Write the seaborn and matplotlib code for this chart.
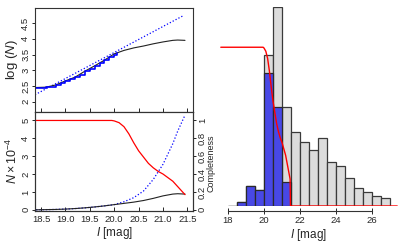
import matplotlib
matplotlib.use("Agg")
import matplotlib.pyplot as plt
import seaborn as sns
import numpy as np

# ---------------- data ----------------
# top-left: log(N) cumulative counts
step_mag = [18.40, 18.50, 18.60, 18.70, 18.80, 18.90, 19.00, 19.10, 19.20, 19.30,
            19.40, 19.50, 19.60, 19.70, 19.80, 19.90, 20.00, 20.05]
step_logn = [2.45, 2.44, 2.46, 2.48, 2.53, 2.59, 2.66, 2.71, 2.78, 2.86,
             2.97, 3.05, 3.14, 3.22, 3.32, 3.42, 3.50, 3.55]
obs_mag = [18.40, 18.60, 18.80, 19.00, 19.20, 19.40, 19.60, 19.80, 20.00, 20.20,
           20.40, 20.60, 20.80, 21.00, 21.20, 21.30, 21.45]
obs_logn = [2.45, 2.46, 2.53, 2.66, 2.78, 2.97, 3.14, 3.32, 3.52, 3.63,
            3.71, 3.77, 3.84, 3.90, 3.95, 3.96, 3.95]
model_mag = [18.377, 21.42]
model_logn = [2.22, 4.74]

# bottom-left: differential counts (x 1e-4) and completeness
dens_mag = [18.40, 18.60, 18.80, 19.00, 19.20, 19.40, 19.60, 19.80, 20.00, 20.20,
            20.40, 20.60, 20.80, 21.00, 21.20, 21.30, 21.45]
dens_obs = [0.00, 0.01, 0.02, 0.04, 0.07, 0.11, 0.16, 0.22, 0.29, 0.36,
            0.43, 0.52, 0.64, 0.78, 0.88, 0.90, 0.88]
dens_model = [0.00, 0.01, 0.02, 0.04, 0.07, 0.11, 0.16, 0.22, 0.29, 0.45,
              0.68, 1.05, 1.70, 2.55, 3.70, 4.40, 5.30]
comp_mag = [18.40, 19.00, 19.50, 19.95, 20.00, 20.10, 20.20, 20.30, 20.40, 20.50,
            20.60, 20.70, 20.80, 20.90, 21.00, 21.10, 21.20, 21.30, 21.45]
comp_val = [1.00, 1.00, 1.00, 1.00, 0.995, 0.975, 0.93, 0.85, 0.75, 0.66,
            0.59, 0.52, 0.47, 0.43, 0.40, 0.36, 0.32, 0.26, 0.17]

# right: histogram
bin_edges = [18.0, 18.5, 19.0, 19.5, 20.0, 20.5, 21.0, 21.5, 22.0, 22.5,
             23.0, 23.5, 24.0, 24.5, 25.0, 25.5, 26.0, 26.5, 27.0]
all_counts = [0, 2, 10, 8, 76, 100, 50, 37, 32, 28, 34, 22, 20, 14, 9, 7, 5, 4]
sel_counts = [0, 2, 10, 8, 67, 50, 12, 0, 0, 0, 0, 0, 0, 0, 0, 0, 0, 0]
right_comp_mag = [17.6] + comp_mag + [21.47, 27.4]
right_comp_val = [1.0] + comp_val + [0.0, 0.0]

# ---------------- style ----------------
sns.set_style("ticks")
plt.rcParams["font.family"] = ["Liberation Sans", "DejaVu Sans"]
plt.rcParams["mathtext.fontset"] = "custom"
plt.rcParams["mathtext.rm"] = "Liberation Sans"
plt.rcParams["mathtext.it"] = "Liberation Sans:italic"
plt.rcParams["axes.linewidth"] = 0.8

W, H = 407, 246
fig = plt.figure(figsize=(W / 100, H / 100), dpi=100)

def fx(px):
    return px / W

def fy(py):
    return 1 - py / H

left_x0, left_x1 = 35, 193.3
ax_top = fig.add_axes([fx(left_x0), fy(111.7), fx(left_x1 - left_x0), (111.7 - 8.3) / H])
ax_bot = fig.add_axes([fx(left_x0), fy(210.7), fx(left_x1 - left_x0), (210.7 - 111.7) / H])
ax_r = fig.add_axes([fx(219), fy(206), fx(180), (206 - 7.3) / H])

tick_fs = 6.8
dotted = (0, (1, 1.6))

# ---- top-left ----
sns.lineplot(x=model_mag, y=model_logn, ax=ax_top, color="blue", lw=0.9,
             linestyle=dotted, estimator=None)
sns.lineplot(x=obs_mag, y=obs_logn, ax=ax_top, color="#222222", lw=0.8, estimator=None)
sns.lineplot(x=step_mag, y=step_logn, ax=ax_top, color="blue", lw=1.2,
             drawstyle="steps-post", estimator=None)
ax_top.set_xlim(18.377, 21.62)
ax_top.set_ylim(1.68, 4.97)
ax_top.set_xticks([18.5, 19.0, 19.5, 20.0, 20.5, 21.0, 21.5])
ax_top.set_xticklabels([])
ax_top.set_yticks([2, 2.5, 3, 3.5, 4, 4.5])
ax_top.set_yticklabels(["2", "2.5", "3", "3.5", "4", "4.5"])
ax_top.tick_params(axis="x", direction="in", length=3, width=0.7)
ax_top.tick_params(axis="y", direction="out", length=2.4, width=0.7,
                   labelsize=tick_fs, pad=1, labelrotation=90)
for t in ax_top.get_yticklabels():
    t.set_va("center")
ax_top.set_xlabel("")
ax_top.set_ylabel("")
for s in ax_top.spines.values():
    s.set_color("#333333")

# ---- bottom-left ----
sns.lineplot(x=dens_mag, y=dens_model, ax=ax_bot, color="blue", lw=0.9,
             linestyle=dotted, estimator=None)
sns.lineplot(x=dens_mag, y=dens_obs, ax=ax_bot, color="#222222", lw=0.8, estimator=None)
ax_bot.set_xlim(18.377, 21.62)
ax_bot.set_ylim(-0.05, 5.49)
ax_bot.set_xticks([18.5, 19.0, 19.5, 20.0, 20.5, 21.0, 21.5])
ax_bot.set_xticklabels(["18.5", "19.0", "19.5", "20.0", "20.5", "21.0", "21.5"])
ax_bot.set_yticks([0, 1, 2, 3, 4, 5])
ax_bot.tick_params(axis="x", direction="in", length=3, width=0.7,
                   labelsize=tick_fs, pad=3)
ax_bot.tick_params(axis="y", direction="out", length=2.4, width=0.7,
                   labelsize=tick_fs, pad=1, labelrotation=90)
for t in ax_bot.get_yticklabels():
    t.set_va("center")
ax_bot.set_xlabel(r"$I$ [mag]", fontsize=8.5, labelpad=1)
ax_bot.set_ylabel("")
for s in ax_bot.spines.values():
    s.set_color("#333333")

ax_c = ax_bot.twinx()
sns.lineplot(x=comp_mag, y=comp_val, ax=ax_c, color="red", lw=0.9, estimator=None)
ax_c.set_ylim(-0.01, 1.098)
ax_c.set_yticks([0, 0.2, 0.4, 0.6, 0.8, 1])
ax_c.set_yticklabels(["0", "0.2", "0.4", "0.6", "0.8", "1"])
ax_c.tick_params(axis="y", direction="out", length=2.4, width=0.7,
                 labelsize=tick_fs, pad=1, labelrotation=90)
for t in ax_c.get_yticklabels():
    t.set_va("center")
ax_c.set_ylabel("")
for s in ax_c.spines.values():
    s.set_color("#333333")

fig.text(fx(12), fy(60), r"log ($N$)", rotation=90, ha="center", va="center", fontsize=9.5)
fig.text(fx(12), fy(161), r"$N\times10^{-4}$", rotation=90, ha="center", va="center", fontsize=9)
fig.text(fx(211), fy(163), "Completeness", rotation=90, ha="center", va="center", fontsize=6.5)

# ---- right histogram ----
centers = [(a + b) / 2 for a, b in zip(bin_edges[:-1], bin_edges[1:])]
sns.histplot(x=centers, weights=all_counts, bins=bin_edges, ax=ax_r,
             color="#dcdcdc", edgecolor="#3a3a3a", linewidth=0.9, alpha=1)
sns.histplot(x=centers, weights=sel_counts, bins=bin_edges[:8], ax=ax_r,
             color="#4848e6", edgecolor="#2a2a2a", linewidth=0.9, alpha=1)
ax_r.set_xlim(17.5, 27.5)
ax_r.set_ylim(0, 100)
ax_r.set_ylabel("")
ax_r.set_yticks([])
for side in ["left", "top", "right"]:
    ax_r.spines[side].set_visible(False)
ax_r.spines["bottom"].set_position(("outward", 3.4))
ax_r.spines["bottom"].set_bounds(18, 26)
ax_r.spines["bottom"].set_color("#333333")
ax_r.set_xticks([18, 20, 22, 24, 26])
ax_r.set_xticklabels(["18", "20", "22", "24", "26"])
ax_r.tick_params(axis="x", direction="inout", length=4, width=0.7,
                 labelsize=tick_fs, pad=2)
ax_r.set_xlabel(r"$I$ [mag]", fontsize=8.5, labelpad=1)

ax_r2 = ax_r.twinx()
sns.lineplot(x=right_comp_mag, y=right_comp_val, ax=ax_r2, color="red", lw=1.0,
             estimator=None, sort=False)
ax_r2.set_ylim(0, 199 / 159)
ax_r2.set_yticks([])
ax_r2.set_ylabel("")
for s in ax_r2.spines.values():
    s.set_visible(False)

fig.savefig("out.png", dpi=100)
